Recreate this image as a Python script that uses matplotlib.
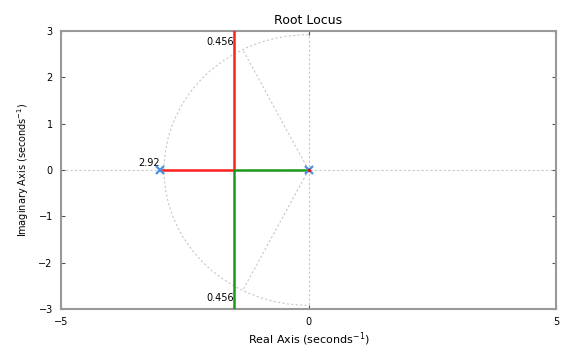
import matplotlib
matplotlib.use("Agg")
import matplotlib.pyplot as plt
from matplotlib.patches import Arc
import numpy as np

# ── Data ─────────────────────────────────────────────────────────────
pole_re = [-3.0, 0.0]
pole_im = [0.0, 0.0]

# branch 1 (red): from pole at -3 to breakaway, then upward
branch1_re = [-3.0, -1.5, -1.5]
branch1_im = [0.0, 0.0, 3.3]
# branch 2 (green): from pole at 0 to breakaway, then downward
branch2_re = [0.0, -1.5, -1.5]
branch2_im = [0.0, 0.0, -3.3]

zeta = 0.456
wn = 2.92

x_ticks = [-5, 0, 5]
y_ticks = [-3, -2, -1, 0, 1, 2, 3]

# ── Plot ─────────────────────────────────────────────────────────────
fig = plt.figure(figsize=(5.61, 3.52), dpi=100)
ax = fig.add_axes([0.109, 0.122, 0.882, 0.79])

grid_kw = dict(color="#c8c8c8", lw=0.8, ls=(0, (2, 2)), zorder=1)
ax.axhline(0, **grid_kw)
ax.axvline(0, **grid_kw)

# damping lines and natural frequency arc
wd = wn * np.sqrt(1 - zeta ** 2)
ax.plot([0, -zeta * wn], [0, wd], **grid_kw)
ax.plot([0, -zeta * wn], [0, -wd], **grid_kw)
ax.add_patch(Arc((0, 0), 2 * wn, 2 * wn, theta1=90, theta2=270, **grid_kw))

ax.plot(branch1_re, branch1_im, color="#ff2020", lw=1.8, zorder=3)
ax.plot(branch2_re, branch2_im, color="#1a9a1a", lw=1.8, zorder=3)
ax.plot(pole_re, pole_im, ls="none", marker="x", color="#4a90e2",
        ms=6, mew=1.6, zorder=4)
ax.plot([0], [0], ls="none", marker="o", color="#d01818", ms=2.5,
        mew=0, zorder=5)

ax.text(-1.5, 2.76, f"{zeta:.3f}", ha="right", va="center", fontsize=7)
ax.text(-1.5, -2.76, f"{zeta:.3f}", ha="right", va="center", fontsize=7)
ax.text(-3.0, 0.05, f"{wn:.2f}", ha="right", va="bottom", fontsize=7)

ax.set_xlim(-5, 5)
ax.set_ylim(-3, 3)
ax.set_xticks(x_ticks)
ax.set_yticks(y_ticks)
ax.tick_params(direction="in", top=True, right=True, labelsize=7,
               length=3, color="#555555", pad=6)
for s in ax.spines.values():
    s.set_color("#999999")
    s.set_linewidth(1.5)

ax.set_title("Root Locus", fontsize=9, pad=5)
ax.set_xlabel("Real Axis (seconds$^{-1}$)", fontsize=8, labelpad=2)
ax.set_ylabel("Imaginary Axis (seconds$^{-1}$)", fontsize=7, labelpad=5)

fig.savefig("out.png", dpi=100)
